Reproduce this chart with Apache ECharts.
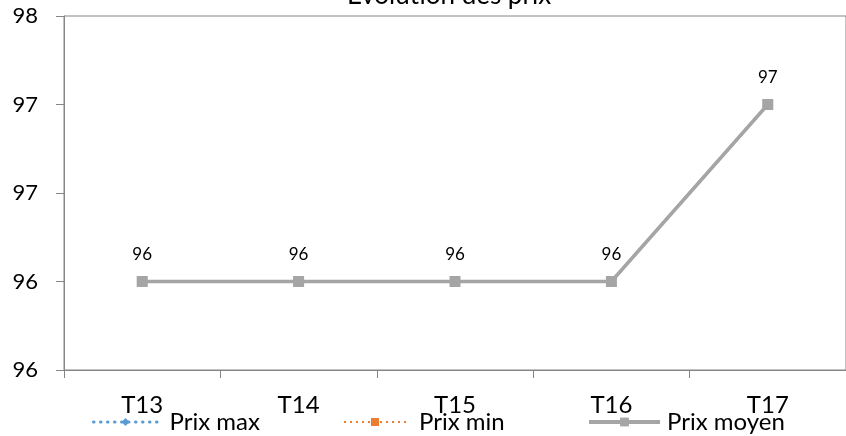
<!DOCTYPE html>
<html><head><meta charset="utf-8">
<script src="https://cdn.jsdelivr.net/npm/echarts@6/dist/echarts.min.js"></script>
<style>html,body{margin:0;padding:0;background:#fff}#c{width:846px;height:436px}</style>
</head><body><div id="c"></div>
<script>
const categories = ['T13','T14','T15','T16','T17'];
const prixMax = [96,96,96,96,97];
const prixMin = [96,96,96,96,97];
const prixMoyen = [96,96,96,96,97];
const seriesNames = ['Prix max','Prix min','Prix moyen'];
const titleText = 'Evolution des prix';

const FONT = 'Lato';
const chart = echarts.init(document.getElementById('c'));
chart.setOption({
  animation:false,
  title:{text:titleText,left:444,textAlign:'center',top:-22,textStyle:{fontFamily:FONT,fontSize:26,fontWeight:'normal',color:'#000'}},
  grid:{left:64,top:16,width:788,height:354,show:true,borderColor:'#868686',borderWidth:1,backgroundColor:'transparent'},
  legend:[
    {data:[seriesNames[0]],left:87,top:405,itemWidth:64,itemHeight:10,lineStyle:{width:3,type:[0.5,6.5],cap:'round'},textStyle:{fontFamily:FONT,fontSize:24,color:'#000',padding:[0,0,0,7]}},
    {data:[seriesNames[1]],left:338,top:405,itemWidth:62,itemHeight:10,lineStyle:{width:2,type:[2,4]},textStyle:{fontFamily:FONT,fontSize:24,color:'#000',padding:[0,0,0,8]}},
    {data:[seriesNames[2]],left:582,top:405,itemWidth:71,itemHeight:11,lineStyle:{width:4},textStyle:{fontFamily:FONT,fontSize:24,color:'#000',padding:[0,0,0,2]}}
  ],
  xAxis:{type:'category',data:categories,boundaryGap:true,
    axisLine:{lineStyle:{color:'#868686',width:1}},
    axisTick:{show:true,alignWithLabel:false,length:8,lineStyle:{color:'#868686'}},
    axisLabel:{fontFamily:FONT,fontSize:24,color:'#000',margin:23}},
  yAxis:{type:'value',min:95.5,max:97.5,interval:0.5,
    axisLine:{show:true,lineStyle:{color:'#868686',width:1}},
    axisTick:{show:true,length:8,lineStyle:{color:'#868686'}},
    splitLine:{show:false},
    axisLabel:{fontFamily:FONT,fontSize:22,color:'#000',margin:26,formatter:v=>String(Math.round(v))}},
  series:[
    {name:seriesNames[0],type:'line',data:prixMax,symbol:'diamond',symbolSize:10,
      itemStyle:{color:'#5B9BD5'},lineStyle:{color:'#5B9BD5',width:3,type:[0.5,6.5],cap:'round'}},
    {name:seriesNames[1],type:'line',data:prixMin,symbol:'rect',symbolSize:10,
      itemStyle:{color:'#ED7D31'},lineStyle:{color:'#ED7D31',width:2,type:[2,4]}},
    {name:seriesNames[2],type:'line',data:prixMoyen,symbol:'rect',symbolSize:11,
      itemStyle:{color:'#A5A5A5'},lineStyle:{color:'#A5A5A5',width:3.5},
      label:{show:true,position:'top',distance:13,fontFamily:FONT,fontSize:17,color:'#000',formatter:p=>String(Math.round(p.value))}}
  ]
});
</script></body></html>
